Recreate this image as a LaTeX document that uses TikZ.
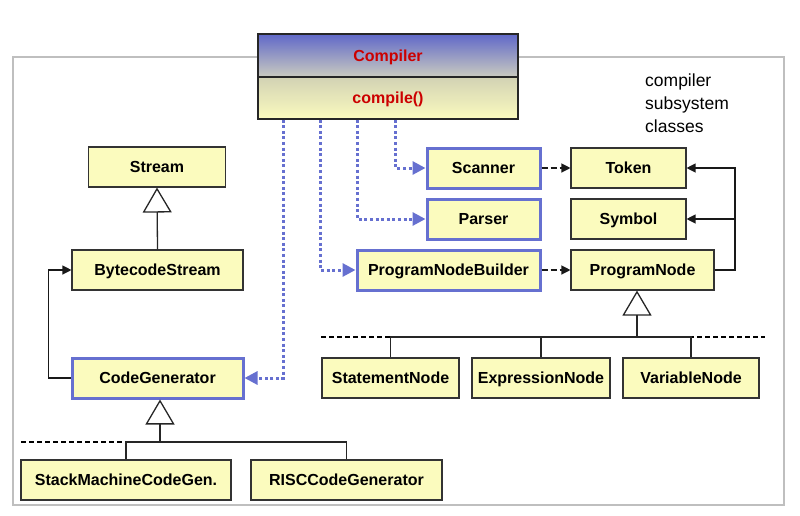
\documentclass[tikz,border=0pt]{standalone}
\usepackage{fontspec}
\setmainfont{Liberation Sans}
\usetikzlibrary{arrows.meta}
\definecolor{clsyellow}{HTML}{FBFBBE}
\definecolor{umlblue}{HTML}{6670D0}
\definecolor{hdblue}{HTML}{6068C8}
\definecolor{hdgray}{HTML}{CACBC0}
\definecolor{opgray}{HTML}{D2D2B4}
\definecolor{compred}{HTML}{CC0000}
\tikzset{
    cls/.style={draw=black!80, line width=1.1pt, fill=clsyellow, minimum height=40pt,
        inner sep=0pt, text height=11.5pt, text depth=0pt, font=\fontsize{16}{18}\selectfont\bfseries},
    sub/.style={cls, draw=umlblue, line width=3pt},
    compart/.style={draw=black!85, line width=1.1pt, minimum width=260pt, inner sep=0pt,
        text height=11.5pt, text depth=0pt, text=compred, font=\fontsize{16}{18}\selectfont\bfseries},
    inherit/.style={draw=black!85, line width=1.3pt, -{Triangle[open,length=25pt,width=29pt]}},
    assoc/.style={draw=black!90, line width=1.2pt, -{Triangle[length=9pt,width=9pt]}},
    dep/.style={assoc, dash pattern=on 6pt off 3pt},
    uses/.style={draw=umlblue, line width=3pt, dash pattern=on 3pt off 2.6pt,
        -{Triangle[length=13pt,width=13pt]}},
    more/.style={draw=black, line width=1.3pt, dash pattern=on 5pt off 3pt}
}
\begin{document}
\begin{tikzpicture}[x=1pt,y=-1pt]
    \useasboundingbox (0,0) rectangle (800,515);
    \draw[draw=black!25, line width=2pt] (13,57) rectangle (784,505);

    \node[compart, minimum height=43pt, top color=hdblue, bottom color=hdgray] (compiler) at (388,55.5) {Compiler};
    \node[compart, minimum height=42pt, top color=opgray, bottom color=clsyellow] (compileop) at (388,98) {compile()};
    \node[align=left, anchor=north west, inner sep=0pt, font=\fontsize{17.5}{23}\selectfont] (caption) at (645,74) {compiler\\subsystem\\classes};

    \node[cls, minimum width=137pt] (stream) at (157,167) {Stream};
    \node[cls, minimum width=171pt] (bytes) at (157.5,270) {BytecodeStream};
    \node[sub, minimum width=171pt] (codegen) at (157.5,378) {CodeGenerator};
    \node[cls, minimum width=210pt] (stackgen) at (126,480) {StackMachineCodeGen.};
    \node[cls, minimum width=191pt] (riscgen) at (346.5,480) {RISCCodeGenerator};

    \node[sub, minimum width=113pt] (scanner) at (483.5,168) {Scanner};
    \node[sub, minimum width=113pt] (parser) at (483.5,219) {Parser};
    \node[sub, minimum width=183pt] (builder) at (448.5,270) {ProgramNodeBuilder};
    \node[cls, minimum width=115pt] (token) at (628.5,168) {Token};
    \node[cls, minimum width=115pt] (symbol) at (628.5,219) {Symbol};
    \node[cls, minimum width=143pt] (prognode) at (642.5,270) {ProgramNode};
    \node[cls, minimum width=137pt] (stmt) at (390.5,378) {StatementNode};
    \node[cls, minimum width=138pt] (expr) at (541,378) {ExpressionNode};
    \node[cls, minimum width=136pt] (var) at (691,378) {VariableNode};

    \draw[uses] ([xshift=138pt]compileop.south west) |- (scanner.west);
    \draw[uses] ([xshift=100pt]compileop.south west) |- (parser.west);
    \draw[uses] ([xshift=63pt]compileop.south west) |- (builder.west);
    \draw[uses] ([xshift=26pt]compileop.south west) |- (codegen.east);

    \draw[dep] (scanner.east) -- (token.west);
    \draw[dep] (builder.east) -- (prognode.west);
    \coordinate (bus) at (735,270);
    \draw[assoc] (prognode.east) -- (bus) |- (token.east);
    \draw[assoc] (bus |- symbol.east) -- (symbol.east);
    \draw[assoc] (codegen.west) -- ++(-22,0) |- (bytes.west);

    \draw[inherit] (bytes.north) -- (stream.south);

    \coordinate (cjoin) at (160,442);
    \draw[more] (21,442) -- (stackgen.north |- cjoin);
    \draw[draw=black!85, line width=1.1pt] (stackgen.north) |- (riscgen.north |- cjoin) -- (riscgen.north);
    \draw[inherit] (cjoin) -- (cjoin |- codegen.south);

    \coordinate (pjoin) at (637,337);
    \draw[more] (321,337) -- (765,337);
    \draw[draw=black!85, line width=1.1pt] (stmt.north) |- (var.north |- pjoin) -- (var.north);
    \draw[draw=black!85, line width=1.1pt] (expr.north) -- (expr.north |- pjoin);
    \draw[inherit] (pjoin) -- (pjoin |- prognode.south);
\end{tikzpicture}
\end{document}
